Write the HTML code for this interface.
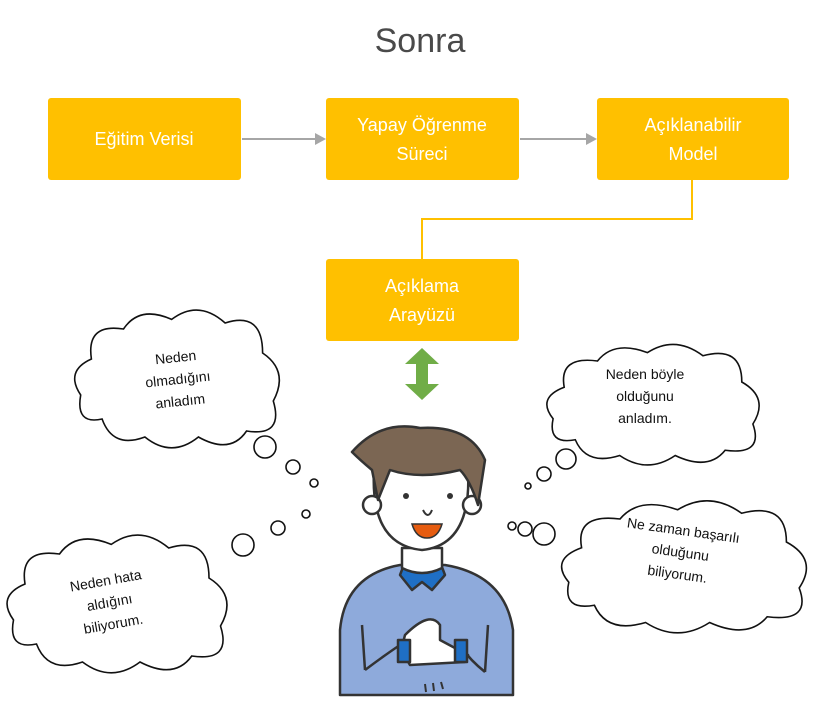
<!DOCTYPE html>
<html><head><meta charset="utf-8"><style>
html,body{margin:0;padding:0;background:#fff;}
svg{display:block;font-family:"Liberation Sans",sans-serif;}
</style></head><body>
<svg width="816" height="706" viewBox="0 0 816 706" xmlns="http://www.w3.org/2000/svg">
<defs>
<path id="cloud" d="M30,95 Q5,100 10,75 Q-5,55 20,45 Q15,15 50,20 Q65,0 95,12 Q120,-5 145,15 Q180,5 180,40 Q205,55 190,80 Q200,110 165,105 Q150,125 120,110 Q95,128 70,110 Q40,120 30,95 Z" fill="#fff" stroke="#111" stroke-width="1.6" vector-effect="non-scaling-stroke"/>
</defs>
<text x="420" y="52" text-anchor="middle" font-size="34" fill="#4a4a4a">Sonra</text>
<g fill="#ffc000">
<rect x="48" y="98" width="193" height="82" rx="3"/>
<rect x="326" y="98" width="193" height="82" rx="3"/>
<rect x="597" y="98" width="192" height="82" rx="3"/>
<rect x="326" y="259" width="193" height="82" rx="3"/>
</g>
<g fill="#fff" font-size="18" text-anchor="middle">
<text x="144" y="145">Eğitim Verisi</text>
<text x="422" y="131">Yapay Öğrenme</text><text x="422" y="160">Süreci</text>
<text x="693" y="131">Açıklanabilir</text><text x="693" y="160">Model</text>
<text x="422" y="292">Açıklama</text><text x="422" y="321">Arayüzü</text>
</g>
<g stroke="#a6a6a6" stroke-width="2"><line x1="242" y1="139" x2="316" y2="139"/><line x1="520" y1="139" x2="588" y2="139"/></g>
<g fill="#a6a6a6"><polygon points="326,139 315,133 315,145"/><polygon points="597,139 586,133 586,145"/></g>
<polyline points="692,180 692,219 422,219 422,259" fill="none" stroke="#ffc000" stroke-width="2"/>
<polygon points="422,348 405,364 416,364 416,384 405,384 422,400 439,384 428,384 428,364 439,364" fill="#70ad47"/>
<use href="#cloud" transform="translate(70,305) scale(1.07,1.2)"/>
<use href="#cloud" transform="translate(2,530) scale(1.15,1.2)"/>
<use href="#cloud" transform="translate(542,340) scale(1.11,1.05)"/>
<use href="#cloud" transform="translate(556,496) scale(1.28,1.15)"/>
<g fill="#fff" stroke="#111" stroke-width="1.6">
<circle cx="265" cy="447" r="11"/><circle cx="293" cy="467" r="7"/><circle cx="314" cy="483" r="4"/>
<circle cx="243" cy="545" r="11"/><circle cx="278" cy="528" r="7"/><circle cx="306" cy="514" r="4"/>
<circle cx="566" cy="459" r="10"/><circle cx="544" cy="474" r="7"/><circle cx="528" cy="486" r="3"/>
<circle cx="544" cy="534" r="11"/><circle cx="525" cy="529" r="7"/><circle cx="512" cy="526" r="4"/>
</g>
<g font-size="14" fill="#111" text-anchor="middle">
<g transform="rotate(-6 178 380)"><text x="178" y="362">Neden</text><text x="178" y="384">olmadığını</text><text x="178" y="406">anladım</text></g>
<g transform="rotate(-10 110 605)"><text x="110" y="585">Neden hata</text><text x="110" y="607">aldığını</text><text x="110" y="629">biliyorum.</text></g>
<text x="645" y="379">Neden böyle</text><text x="645" y="401">olduğunu</text><text x="645" y="423">anladım.</text>
<g transform="rotate(8 680 555)"><text x="680" y="535">Ne zaman başarılı</text><text x="680" y="557">olduğunu</text><text x="680" y="579">biliyorum.</text></g>
</g>
<g stroke="#333" stroke-width="2.5" stroke-linejoin="round">
<path d="M340,695 L340,630 Q345,575 400,565 L445,565 Q505,575 513,630 L513,695 Z" fill="#8eaadb"/>
<path d="M405,562 L440,562 L445,575 L432,590 L422,582 L412,590 L400,575 Z" fill="#1f6fc5"/>
<path d="M402,548 L402,568 Q422,578 442,568 L442,548 Z" fill="#fff"/>
<path d="M374,470 Q370,545 422,550 Q472,545 468,470 Z" fill="#fff"/>
<circle cx="372" cy="505" r="9" fill="#fff"/><circle cx="472" cy="505" r="9" fill="#fff"/>
<path d="M352,452 Q380,420 420,428 Q470,425 485,460 L478,505 Q470,480 460,470 Q420,480 390,470 L378,500 L372,470 Q360,460 352,452 Z" fill="#7b6653"/>
<path d="M362,625 L365,670 M488,625 L485,672" fill="none"/>
<path d="M365,670 Q385,655 400,645 M485,672 Q470,660 462,648" fill="none"/>
<path d="M405,635 Q430,610 440,625 L440,640 L468,655 L465,662 L410,665 Q400,650 405,635 Z" fill="#fff"/>
<rect x="398" y="640" width="12" height="22" fill="#1f6fc5"/><rect x="455" y="640" width="12" height="22" fill="#1f6fc5"/>
</g>
<circle cx="406" cy="496" r="3" fill="#333"/><circle cx="450" cy="496" r="3" fill="#333"/>
<path d="M423,510 Q428,520 432,510" fill="none" stroke="#333" stroke-width="2"/>
<path d="M412,524 L442,524 Q438,538 427,538 Q416,538 412,524 Z" fill="#e65c10" stroke="#333" stroke-width="1.5"/>
<g stroke="#333" stroke-width="2"><line x1="425" y1="684" x2="426" y2="692"/><line x1="433" y1="683" x2="434" y2="691"/><line x1="441" y1="682" x2="443" y2="689"/></g>
</svg>
</body></html>
